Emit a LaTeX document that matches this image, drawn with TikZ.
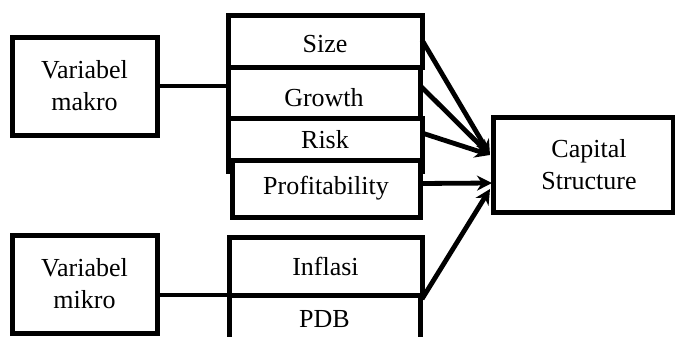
\documentclass[tikz,border=0pt]{standalone}
\usepackage{fontspec}
\setmainfont{Liberation Serif}
\usetikzlibrary{arrows.meta}
\begin{document}
\begin{tikzpicture}[x=0.5pt,y=-0.5pt,
  box/.style={draw=black,line width=2.5pt,fill=white,inner sep=0pt,outer sep=0pt,align=center,
    font=\fontsize{13}{16}\selectfont},
  link/.style={line width=2.4pt},
  arr/.style={line width=2.4pt,-{Stealth[length=7.5pt,width=7.5pt]}}]
\useasboundingbox (0,0) rectangle (675,337);
\clip (0,0) rectangle (675,337);
\node[box,minimum width=72.5pt,minimum height=49pt] (Makro) at (84.5,86) {Variabel\\makro};
\node[box,minimum width=72.5pt,minimum height=49pt] (Mikro) at (84.5,284) {Variabel\\mikro};
\node[box,minimum width=97pt,minimum height=26pt,text height=11.9pt] (Size) at (325,41) {Size};
\node[box,minimum width=96pt,minimum height=25.5pt,text height=13.9pt] (Growth) at (324,92.5) {Growth};
\node[box,minimum width=97pt,minimum height=22pt] (Risk) at (325,140) {Risk};
\draw[line width=2.5pt] (Risk.south west) -- ++(0,12) (Risk.south east) -- ++(0,12);
\node[box,minimum width=94pt,minimum height=28.5pt] (Prof) at (326,188.5) {Profitability};
\node[box,minimum width=96.5pt,minimum height=29pt] (Inflasi) at (325.5,266) {Inflasi};
\node[box,minimum width=95.5pt,minimum height=24pt] (PDB) at (324.5,319) {PDB};
\node[box,minimum width=90pt,minimum height=47.5pt] (CS) at (583,164.5) {\hspace*{6pt}Capital\\\hspace*{6pt}Structure};
\coordinate (t1) at (490,155);
\coordinate (t2) at (492,183);
\coordinate (t3) at (490,189);
\draw[link] (Makro.east) -- (Makro.east -| Growth.west);
\draw[link] (Mikro.east |- Inflasi.south) -- (Inflasi.south west);
\draw[arr] ([yshift=0.5pt]Size.east) -- (t1);
\draw[arr] ([yshift=3.5pt]Growth.east) -- (t1);
\draw[arr] ([yshift=3.5pt]Risk.east) -- (t1);
\draw[arr] ([yshift=2.5pt]Prof.east) -- (t2);
\draw[arr] ([yshift=-2pt]Inflasi.south east) -- (t3);
\end{tikzpicture}
\end{document}
